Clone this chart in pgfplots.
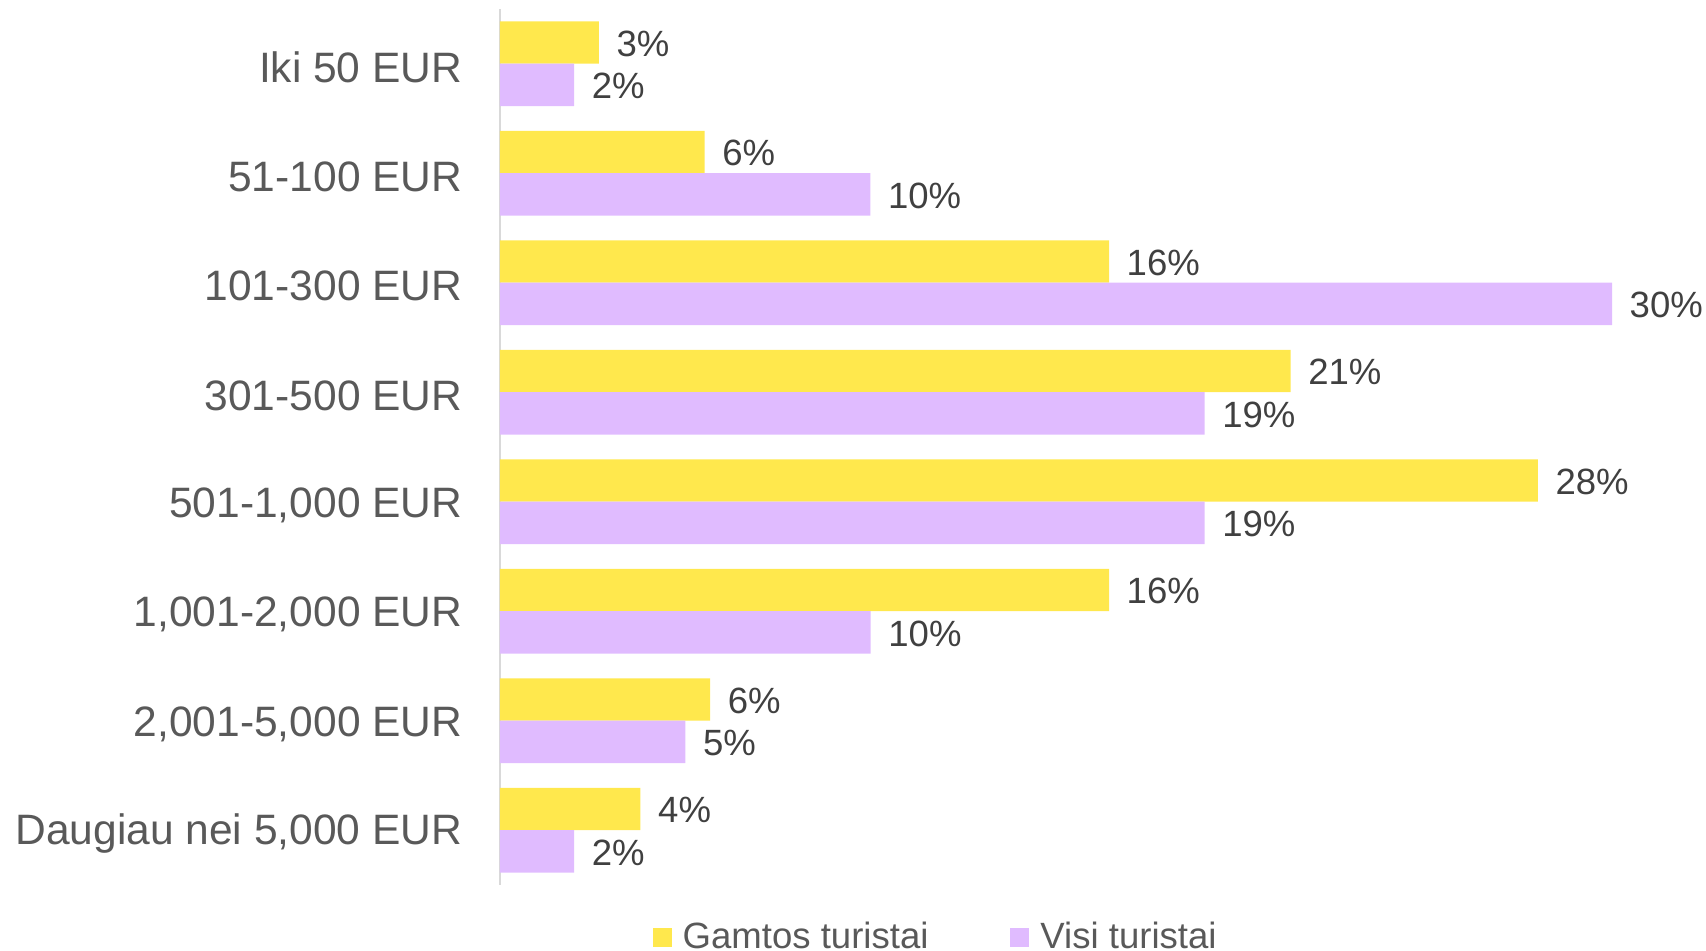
\documentclass[border=0pt]{standalone}
\usepackage{pgfplots}
\pgfplotsset{compat=1.18}
\usepackage{fontspec}
\setmainfont{Liberation Sans}
\definecolor{ycol}{HTML}{FFE84D}
\definecolor{pcol}{HTML}{E0BBFF}
\definecolor{lblc}{HTML}{404040}
\definecolor{tickc}{HTML}{595959}
\definecolor{axl}{HTML}{D9D9D9}
\begin{document}
\begin{tikzpicture}
\useasboundingbox (0,0) rectangle (170.6mm,95.1mm);
\begin{axis}[
  at={(50mm,6.6mm)}, anchor=south west,
  scale only axis, width=111.2mm, height=87.6mm,
  xmin=0, xmax=30, ymin=-0.5, ymax=7.5,
  xbar, bar width=4.24mm,
  clip=false,
  hide x axis,
  axis y line*=left,
  y axis line style={draw=axl, line width=0.25mm, -},
  ytick={0,...,7},
  yticklabels={{Daugiau nei 5,000 EUR},{2,001-5,000 EUR},{1,001-2,000 EUR},{501-1,000 EUR},{301-500 EUR},{101-300 EUR},{51-100 EUR},{Iki 50 EUR}},
  major tick length=0pt,
  ytick style={draw=none},
  yticklabel style={font=\fontsize{12.1}{14}\selectfont, text=tickc, inner sep=0pt, xshift=-3.7mm, yshift=-0.35mm},
  /pgf/number format/assume math mode=true,
  nodes near coords={\pgfmathprintnumber[fixed,precision=0]{\pgfplotspointmeta}\%},
  every node near coord/.append style={anchor=west, inner sep=0pt, xshift=1.7mm, yshift=-0.1mm, font=\fontsize{10.4}{12}\selectfont, text=lblc},
  legend columns=2,
  legend style={at={(0.1367,-0.0600)}, anchor=west, draw=none, fill=none, inner sep=0pt,
    nodes={inner sep=0pt}, font=\fontsize{10.4}{12}\selectfont, text=tickc,
    /tikz/every odd column/.append style={column sep=1.1mm},
    /tikz/every even column/.append style={column sep=8.2mm}},
  legend image code/.code={\fill[#1, draw=none] (0mm,-0.95mm) rectangle (1.9mm,0.95mm);},
]
\addplot[fill=ycol, draw=none, bar shift=2.12mm] coordinates {
  (3.79,0) (5.67,1) (16.43,2) (28.0,3) (21.33,4) (16.43,5) (5.52,6) (2.67,7)
};
\addlegendentry{Gamtos turistai}
\addplot[fill=pcol, draw=none, bar shift=-2.12mm] coordinates {
  (2.0,0) (5.0,1) (10.0,2) (19.01,3) (19.01,4) (30.0,5) (9.99,6) (2.0,7)
};
\addlegendentry{Visi turistai}
\end{axis}
\end{tikzpicture}
\end{document}
